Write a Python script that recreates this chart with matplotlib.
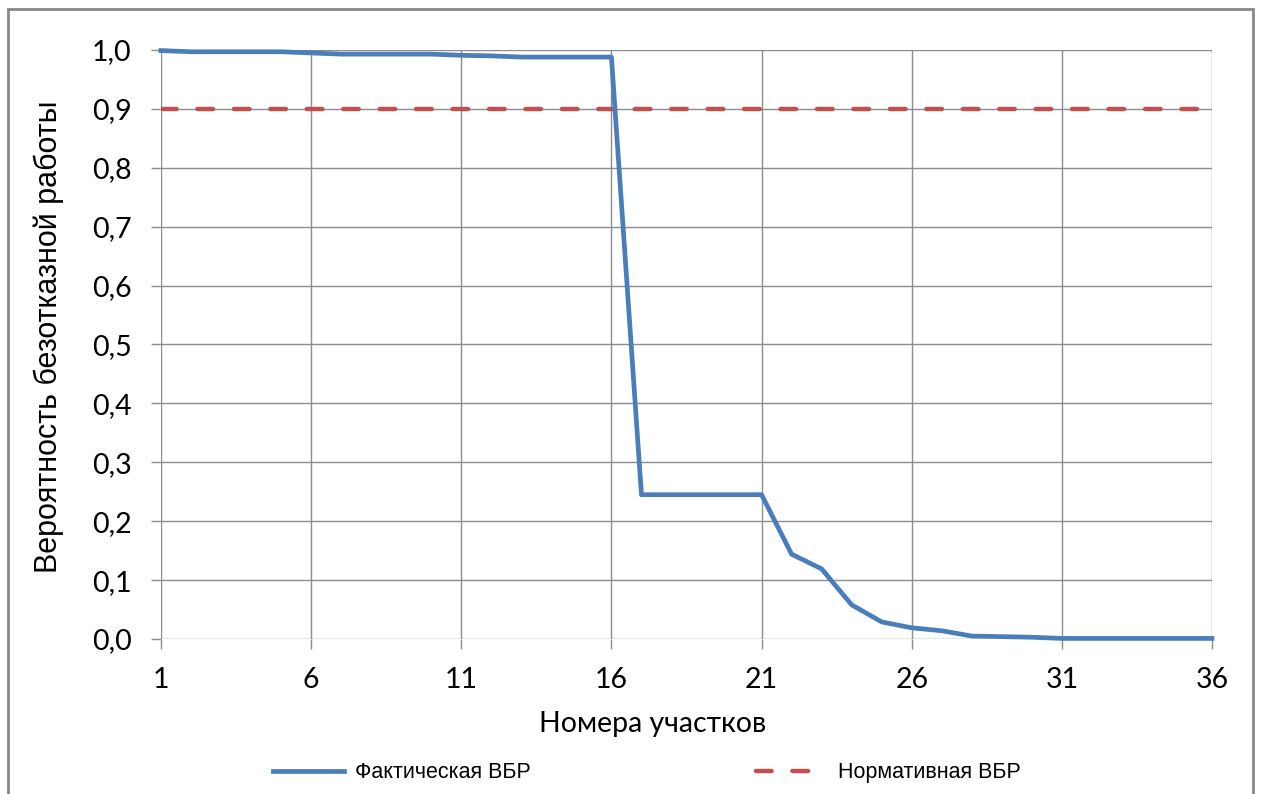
import matplotlib
matplotlib.use("Agg")
import matplotlib.pyplot as plt
from matplotlib.patches import Rectangle
from matplotlib.ticker import FuncFormatter, MultipleLocator

# Номера участков и значения ВБР
sections = list(range(1, 37))
actual_pbr = [0.999, 0.997, 0.997, 0.997, 0.997, 0.995, 0.993, 0.993, 0.993, 0.993,
              0.991, 0.990, 0.988, 0.988, 0.988, 0.988, 0.245, 0.245, 0.245, 0.245,
              0.245, 0.144, 0.119, 0.058, 0.029, 0.019, 0.014, 0.005, 0.004, 0.003,
              0.001, 0.001, 0.001, 0.001, 0.001, 0.001]
norm_pbr = [0.9] * 36

x_ticks = [1, 6, 11, 16, 21, 26, 31, 36]
y_label = "Вероятность безотказной работы"
x_label = "Номера участков"
series_names = ["Фактическая ВБР", "Нормативная ВБР"]

main_font = ["Lato", "DejaVu Sans"]
narrow_font = ["Liberation Sans Narrow", "Liberation Sans", "DejaVu Sans"]
grid_color = "#8c8c8c"

fig = plt.figure(figsize=(12.61, 7.94), dpi=100)
ax = fig.add_axes([161 / 1261, 1 - 639 / 794, (1212 - 161) / 1261, (639 - 50) / 794])

ax.plot(sections, actual_pbr, color="#4a7ebb", lw=3.4, label=series_names[0],
        solid_joinstyle="round", clip_on=False, zorder=4)
ax.plot(sections, norm_pbr, color="#c0504d", lw=3.2, label=series_names[1],
        dashes=(3.5, 4.7), dash_capstyle="round", zorder=3)

ax.set_xlim(1, 36)
ax.set_ylim(0, 1)
ax.set_xticks(x_ticks)
ax.yaxis.set_major_locator(MultipleLocator(0.1))
ax.yaxis.set_major_formatter(FuncFormatter(lambda v, _: f"{v:.1f}".replace(".", ",")))

ax.grid(True, color=grid_color, lw=1.0)
ax.set_axisbelow(True)
for s in ax.spines.values():
    s.set_visible(False)
ax.tick_params(axis="both", length=7, width=1.0, color=grid_color, labelsize=20.5)
ax.tick_params(axis="y", pad=14)
ax.tick_params(axis="x", pad=13)
for lab in ax.get_xticklabels() + ax.get_yticklabels():
    lab.set_family(main_font)

ax.set_xlabel(x_label, fontsize=20.5, family=main_font)
ax.xaxis.set_label_coords(0.468, -0.122)
ax.set_ylabel(y_label, fontsize=22, family=narrow_font)
ax.yaxis.set_label_coords(-0.092, 0.513)

fig.legend(loc="center", bbox_to_anchor=(0.513, 0.027), ncol=2, frameon=False,
           prop={"family": narrow_font, "size": 15.5}, handlelength=3.3,
           columnspacing=10.5, handletextpad=0.5)

# рамка диаграммы
fig.patches.append(Rectangle((8 / 1261, -0.02), 1245 / 1261, 1.02 - 9 / 794,
                             transform=fig.transFigure, fill=False,
                             edgecolor="#888888", lw=2))

fig.savefig("out.png", dpi=100)
